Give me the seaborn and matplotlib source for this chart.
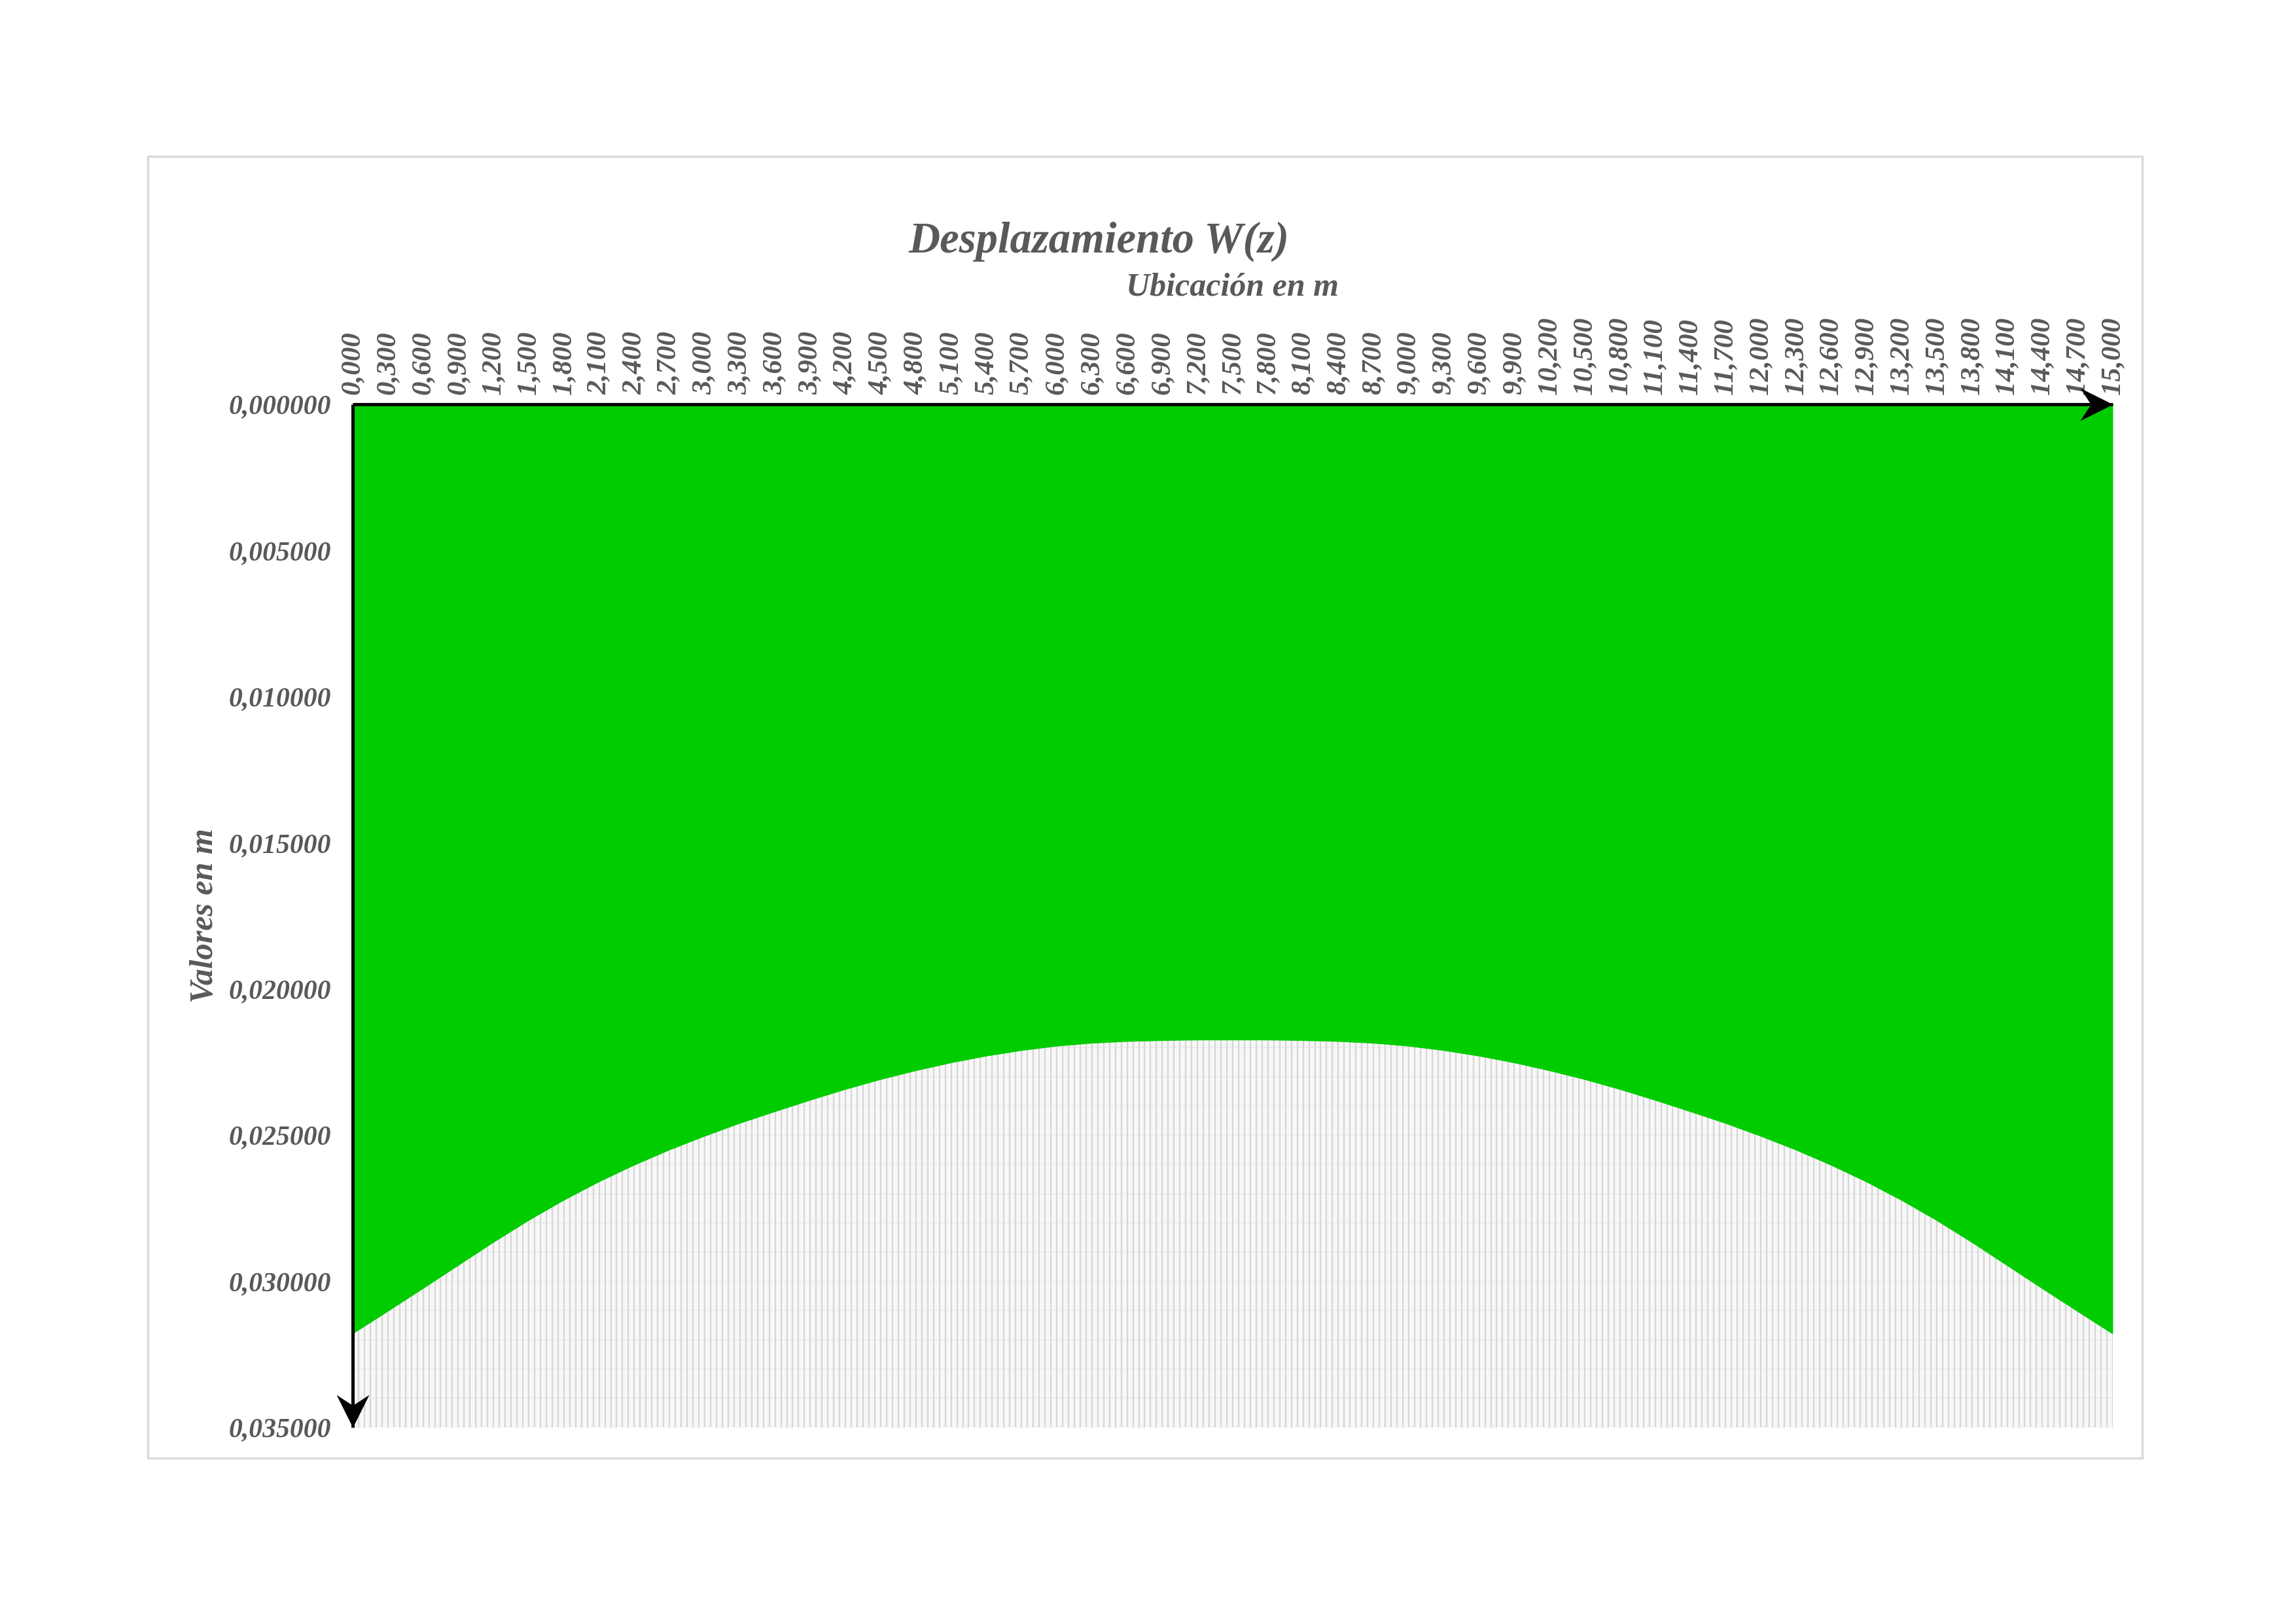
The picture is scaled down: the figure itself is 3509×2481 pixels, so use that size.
import numpy as np
import pandas as pd
import matplotlib
matplotlib.use("Agg")
import matplotlib.pyplot as plt
from matplotlib.patches import Rectangle
from matplotlib.path import Path
from matplotlib.ticker import FuncFormatter, FixedLocator
import seaborn as sns

# ---------------- data ----------------
ubicacion = [round(0.3 * i, 1) for i in range(51)]  # m
desplazamiento = [
    0.03178, 0.03101, 0.03023, 0.02944, 0.02865, 0.02790, 0.02721, 0.02658,
    0.02601, 0.02549, 0.02502, 0.02458, 0.02418, 0.02379, 0.02342, 0.02308,
    0.02278, 0.02251, 0.02228, 0.02209, 0.02194, 0.02184, 0.02178, 0.02175,
    0.02173, 0.02173,
    0.02173, 0.02175, 0.02178, 0.02184, 0.02194, 0.02209, 0.02228, 0.02251,
    0.02278, 0.02308, 0.02342, 0.02379, 0.02418, 0.02458, 0.02502, 0.02549,
    0.02601, 0.02658, 0.02721, 0.02790, 0.02865, 0.02944, 0.03023, 0.03101,
    0.03178,
]
y_ticks = [0.000, 0.005, 0.010, 0.015, 0.020, 0.025, 0.030, 0.035]
title = "Desplazamiento W(z)"
x_title = "Ubicación en m"
y_title = "Valores en m"

df = pd.DataFrame({"z": ubicacion, "w": desplazamiento})

# ---------------- style ----------------
sns.set_theme(style="white")
plt.rcParams["font.family"] = ["Liberation Serif", "DejaVu Serif"]
TXT = "#595959"
GREEN = "#00CC00"

fig = plt.figure(figsize=(3509 / 300, 2481 / 300), dpi=300)
ax = fig.add_axes([0.1536, 0.1205, 0.7666, 0.6304])
ax.set_facecolor("#f8f8f8")

# outer chart border
fig.patches.append(Rectangle((0.0644, 0.1016), 0.8686, 0.8021, transform=fig.transFigure,
                             fill=False, edgecolor="#d9d9d9", linewidth=0.8, zorder=0))

# grid
z_grid = np.linspace(0, 15, 301)
ax.vlines(z_grid, 0, 0.035, colors="#d6d6d6", linewidth=0.55, zorder=1)
ax.hlines(np.linspace(0, 0.035, 36), 0, 15, colors="#eeeeee", linewidth=0.5, zorder=0.9)

# area
ax.fill_between(df["z"], 0, df["w"], color=GREEN, linewidth=0, zorder=2)
sns.lineplot(data=df, x="z", y="w", ax=ax, color=GREEN, linewidth=0.6, zorder=3)

ax.set_xlim(0, 15)
ax.set_ylim(0.035, 0)

# ticks
ax.xaxis.tick_top()
ax.xaxis.set_major_locator(FixedLocator(ubicacion))
ax.xaxis.set_major_formatter(FuncFormatter(lambda v, p: f"{v:.3f}".replace(".", ",")))
ax.yaxis.set_major_locator(FixedLocator(y_ticks))
ax.yaxis.set_major_formatter(FuncFormatter(lambda v, p: f"{v:.6f}".replace(".", ",")))
ax.tick_params(axis="x", which="both", length=0, pad=3.5, labelsize=10.3, labelcolor=TXT,
               rotation=90, top=True, bottom=False, labeltop=True, labelbottom=False)
ax.tick_params(axis="y", which="both", length=0, pad=8, labelsize=10, labelcolor=TXT)
for lab in ax.get_xticklabels() + ax.get_yticklabels():
    lab.set_fontweight("bold")
    lab.set_fontstyle("italic")
for lab in ax.get_xticklabels():
    lab.set_verticalalignment("bottom")

for s in ax.spines.values():
    s.set_visible(False)

# axis labels
ax.set_xlabel(x_title, fontsize=12, fontweight="bold", fontstyle="italic", color=TXT)
ax.xaxis.set_label_position("top")
ax.xaxis.set_label_coords(0.5, 1.114)
ax.xaxis.label.set_verticalalignment("center")
ax.set_ylabel(y_title, fontsize=12, fontweight="bold", fontstyle="italic", color=TXT)
ax.yaxis.set_label_coords(-0.084, 0.5)
ax.yaxis.label.set_verticalalignment("center")

# title
fig.text(0.4785, 0.8513, title, ha="center", va="center", fontsize=16,
         fontweight="bold", fontstyle="italic", color=TXT)

# arrow axes with stealth heads
def stealth(angle_deg):
    pts = np.array([(0, 0), (-2, 1.0), (-1.35, 0), (-2, -1.0), (0, 0)], dtype=float)
    a = np.deg2rad(angle_deg)
    R = np.array([[np.cos(a), -np.sin(a)], [np.sin(a), np.cos(a)]])
    pts = pts @ R.T
    codes = [Path.MOVETO, Path.LINETO, Path.LINETO, Path.LINETO, Path.CLOSEPOLY]
    return Path(pts, codes)

ax.plot([0, 1], [1, 1], transform=ax.transAxes, color="black", lw=1.2,
        clip_on=False, zorder=5, solid_capstyle="butt")
ax.plot([0, 0], [1, 0], transform=ax.transAxes, color="black", lw=1.2,
        clip_on=False, zorder=5, solid_capstyle="butt")
ax.plot([1], [1], transform=ax.transAxes, marker=stealth(0), markersize=24,
        color="black", markeredgewidth=0, clip_on=False, zorder=6)
ax.plot([0], [0], transform=ax.transAxes, marker=stealth(-90), markersize=24,
        color="black", markeredgewidth=0, clip_on=False, zorder=6)

fig.savefig("out.png", dpi=300, facecolor="white")
